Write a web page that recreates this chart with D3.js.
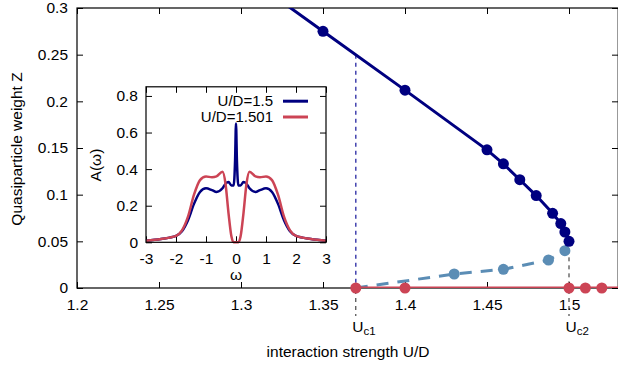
<!DOCTYPE html>
<html>
<head>
<meta charset="utf-8">
<script src="https://cdn.jsdelivr.net/npm/d3@7"></script>
<style>
  body { margin: 0; background: #fff; }
  svg { display: block; font-family: "Liberation Sans", Arial, sans-serif; }
</style>
</head>
<body>
<svg id="chart" width="618" height="368"></svg>
<script>
// main panel: quasiparticle weight vs U/D
const xTicks = [1.2, 1.25, 1.3, 1.35, 1.4, 1.45, 1.5];
const yTicks = [0, 0.05, 0.1, 0.15, 0.2, 0.25, 0.3];

// metallic solution (solid navy), first point only carries the line off the top
const metalLineU = [1.32];
const metalLineZ = [0.313];
const metalU = [1.35, 1.4, 1.45, 1.46, 1.47, 1.48, 1.49, 1.495, 1.4975, 1.5];
const metalZ = [0.275, 0.212, 0.148, 0.133, 0.116, 0.099, 0.080, 0.069, 0.060, 0.050];

// unstable solution (dashed light blue)
const unstableU = [1.37, 1.43, 1.46, 1.4875, 1.4975];
const unstableZ = [0, 0.015, 0.020, 0.030, 0.040];

// insulating solution (red)
const insulU = [1.37, 1.4, 1.5, 1.51, 1.52];
const insulZ = [0, 0, 0, 0, 0];
const insulLineEnd = 1.53;

// critical interaction strengths
const criticalU = [1.37, 1.5];
const criticalZ = [0.25, 0.05];
const criticalNames = ["c1", "c2"];

// inset: spectral functions
const omega = [-3, -2.5, -2, -1.8, -1.6, -1.4, -1.2, -1, -0.8, -0.65, -0.45, -0.35, -0.25, -0.15, -0.08, -0.03, 0,
               0.03, 0.08, 0.15, 0.25, 0.35, 0.45, 0.65, 0.8, 1, 1.2, 1.4, 1.6, 1.8, 2, 2.5, 3];
const aMetal = [0.008, 0.018, 0.035, 0.06, 0.12, 0.21, 0.275, 0.295, 0.285, 0.275, 0.295, 0.32, 0.33, 0.31, 0.31, 0.45, 0.65,
                0.45, 0.31, 0.31, 0.33, 0.32, 0.295, 0.275, 0.285, 0.295, 0.275, 0.21, 0.12, 0.06, 0.035, 0.018, 0.008];
const aInsul = [0.008, 0.018, 0.035, 0.065, 0.14, 0.26, 0.34, 0.36, 0.355, 0.36, 0.385, 0.32, 0.16, 0.03, 0, 0, 0,
                0, 0, 0.03, 0.16, 0.32, 0.385, 0.36, 0.355, 0.36, 0.34, 0.26, 0.14, 0.065, 0.035, 0.018, 0.008];
const insetXTicks = [-3, -2, -1, 0, 1, 2, 3];
const insetYTicks = [0, 0.2, 0.4, 0.6, 0.8];
const legendLabels = ["U/D=1.5", "U/D=1.501"];

const navy = "#000080", red = "#cc4455", light = "#5b8db5";
const fs = "15.5px";
const svg = d3.select("#chart");
const fmt = d => String(d);

const x = d3.scaleLinear().domain([1.2, 1.53]).range([77, 618.2]);
const y = d3.scaleLinear().domain([0, 0.3]).range([288, 8]);

svg.append("defs").append("clipPath").attr("id", "clipMain")
  .append("rect").attr("x", 77).attr("y", 8).attr("width", 541.2).attr("height", 280);

// axes with inward ticks on all four sides
function styleAxis(g) {
  g.select(".domain").remove();
  g.selectAll("text").style("font-size", fs).attr("fill", "#000");
}
svg.append("g").attr("transform", "translate(0,288)")
  .call(d3.axisBottom(x).tickValues(xTicks).tickFormat(fmt).tickSize(-6).tickPadding(11)).call(styleAxis);
svg.append("g").attr("transform", "translate(0,8)")
  .call(d3.axisTop(x).tickValues(xTicks).tickFormat("").tickSize(-6)).call(styleAxis);
svg.append("g").attr("transform", "translate(77,0)")
  .call(d3.axisLeft(y).tickValues(yTicks).tickFormat(fmt).tickSize(-6).tickPadding(9)).call(styleAxis);
svg.append("g").attr("transform", "translate(618,0)")
  .call(d3.axisRight(y).tickValues(yTicks).tickFormat("").tickSize(-6)).call(styleAxis);
svg.append("rect").attr("x", 77).attr("y", 8).attr("width", 541.2).attr("height", 280)
  .attr("fill", "none").attr("stroke", "#000").attr("stroke-width", 1.2);

// critical lines
const plot = svg.append("g").attr("clip-path", "url(#clipMain)");
plot.append("line")
  .attr("x1", x(criticalU[0])).attr("x2", x(criticalU[0]))
  .attr("y1", y(criticalZ[0])).attr("y2", y(0))
  .attr("stroke", "#3535a8").attr("stroke-width", 1.4).attr("stroke-dasharray", "4,4");
plot.append("line")
  .attr("x1", x(criticalU[1])).attr("x2", x(criticalU[1]))
  .attr("y1", y(criticalZ[1])).attr("y2", y(0))
  .attr("stroke", "#222").attr("stroke-width", 1).attr("stroke-dasharray", "4,4");
criticalU.forEach((u, i) => {
  svg.append("line")
    .attr("x1", x(u)).attr("x2", x(u)).attr("y1", 290).attr("y2", 316)
    .attr("stroke", "#222").attr("stroke-width", 1).attr("stroke-dasharray", "4,4");
  const t = svg.append("text").attr("x", x(u) - 3.5).attr("y", 332).style("font-size", fs);
  t.append("tspan").text("U");
  t.append("tspan").attr("dy", 3).style("font-size", "11.5px").text(criticalNames[i]);
});

const line = d3.line().x(d => x(d[0])).y(d => y(d[1]));

// unstable branch
const unstable = unstableU.map((u, i) => [u, unstableZ[i]]);
plot.append("path").attr("d", line(unstable)).attr("fill", "none")
  .attr("stroke", light).attr("stroke-width", 3).attr("stroke-dasharray", "12,9");
plot.selectAll(".pu").data(unstable.slice(1)).join("circle")
  .attr("cx", d => x(d[0])).attr("cy", d => y(d[1])).attr("r", 5.5).attr("fill", light);

// metallic branch
const metal = metalU.map((u, i) => [u, metalZ[i]]);
const metalLine = metalLineU.map((u, i) => [u, metalLineZ[i]]).concat(metal);
plot.append("path").attr("d", line(metalLine)).attr("fill", "none")
  .attr("stroke", navy).attr("stroke-width", 3);
plot.selectAll(".pm").data(metal).join("circle")
  .attr("cx", d => x(d[0])).attr("cy", d => y(d[1])).attr("r", 5.5).attr("fill", navy);

// insulating branch
const insul = insulU.map((u, i) => [u, insulZ[i]]);
plot.append("path").attr("d", line(insul.concat([[insulLineEnd, 0]]))).attr("fill", "none")
  .attr("stroke", red).attr("stroke-width", 3);
svg.selectAll(".pi").data(insul).join("circle")
  .attr("cx", d => x(d[0])).attr("cy", d => y(d[1])).attr("r", 5.5).attr("fill", red);

// axis titles
svg.append("text").attr("x", 348).attr("y", 357).attr("text-anchor", "middle")
  .style("font-size", fs).text("interaction strength U/D");
svg.append("text").attr("transform", "translate(22,149) rotate(-90)").attr("text-anchor", "middle")
  .style("font-size", fs).text("Quasiparticle weight Z");

// ---- inset ----
const ix = d3.scaleLinear().domain([-3, 3]).range([146, 326]);
const iy = d3.scaleLinear().domain([0, 0.85]).range([242.3, 86.8]);

svg.append("rect").attr("x", 146).attr("y", 86.8).attr("width", 180).attr("height", 155.5).attr("fill", "#fff");

const inset = svg.append("g");
inset.append("g").attr("transform", "translate(0,242.3)")
  .call(d3.axisBottom(ix).tickValues(insetXTicks).tickFormat(fmt).tickSize(-6).tickPadding(11)).call(styleAxis);
inset.append("g").attr("transform", "translate(0,86.8)")
  .call(d3.axisTop(ix).tickValues(insetXTicks).tickFormat("").tickSize(-6)).call(styleAxis);
inset.append("g").attr("transform", "translate(146,0)")
  .call(d3.axisLeft(iy).tickValues(insetYTicks).tickFormat(fmt).tickSize(-6).tickPadding(8)).call(styleAxis);
inset.append("g").attr("transform", "translate(326,0)")
  .call(d3.axisRight(iy).tickValues(insetYTicks).tickFormat("").tickSize(-6)).call(styleAxis);

const iline = d3.line().x(d => ix(d[0])).y(d => iy(d[1])).curve(d3.curveMonotoneX);
inset.append("path").attr("d", iline(omega.map((w, i) => [w, aMetal[i]])))
  .attr("fill", "none").attr("stroke", navy).attr("stroke-width", 2.5);
inset.append("path").attr("d", iline(omega.map((w, i) => [w, aInsul[i]])))
  .attr("fill", "none").attr("stroke", red).attr("stroke-width", 2.5);

inset.append("rect").attr("x", 146).attr("y", 86.8).attr("width", 180).attr("height", 155.5)
  .attr("fill", "none").attr("stroke", "#000").attr("stroke-width", 1.2);

// legend
[navy, red].forEach((c, i) => {
  const ly = 101.2 + i * 15.8;
  inset.append("text").attr("x", 273).attr("y", ly).attr("dy", "0.35em").attr("text-anchor", "end")
    .style("font-size", "15px").text(legendLabels[i]);
  inset.append("line").attr("x1", 283).attr("x2", 308).attr("y1", ly).attr("y2", ly)
    .attr("stroke", c).attr("stroke-width", 3);
});

inset.append("text").attr("x", 236).attr("y", 280).attr("text-anchor", "middle")
  .style("font-size", fs).text("ω");
inset.append("text").attr("transform", "translate(101,165) rotate(-90)").attr("text-anchor", "middle")
  .style("font-size", fs).text("A(ω)");
</script>
</body>
</html>
